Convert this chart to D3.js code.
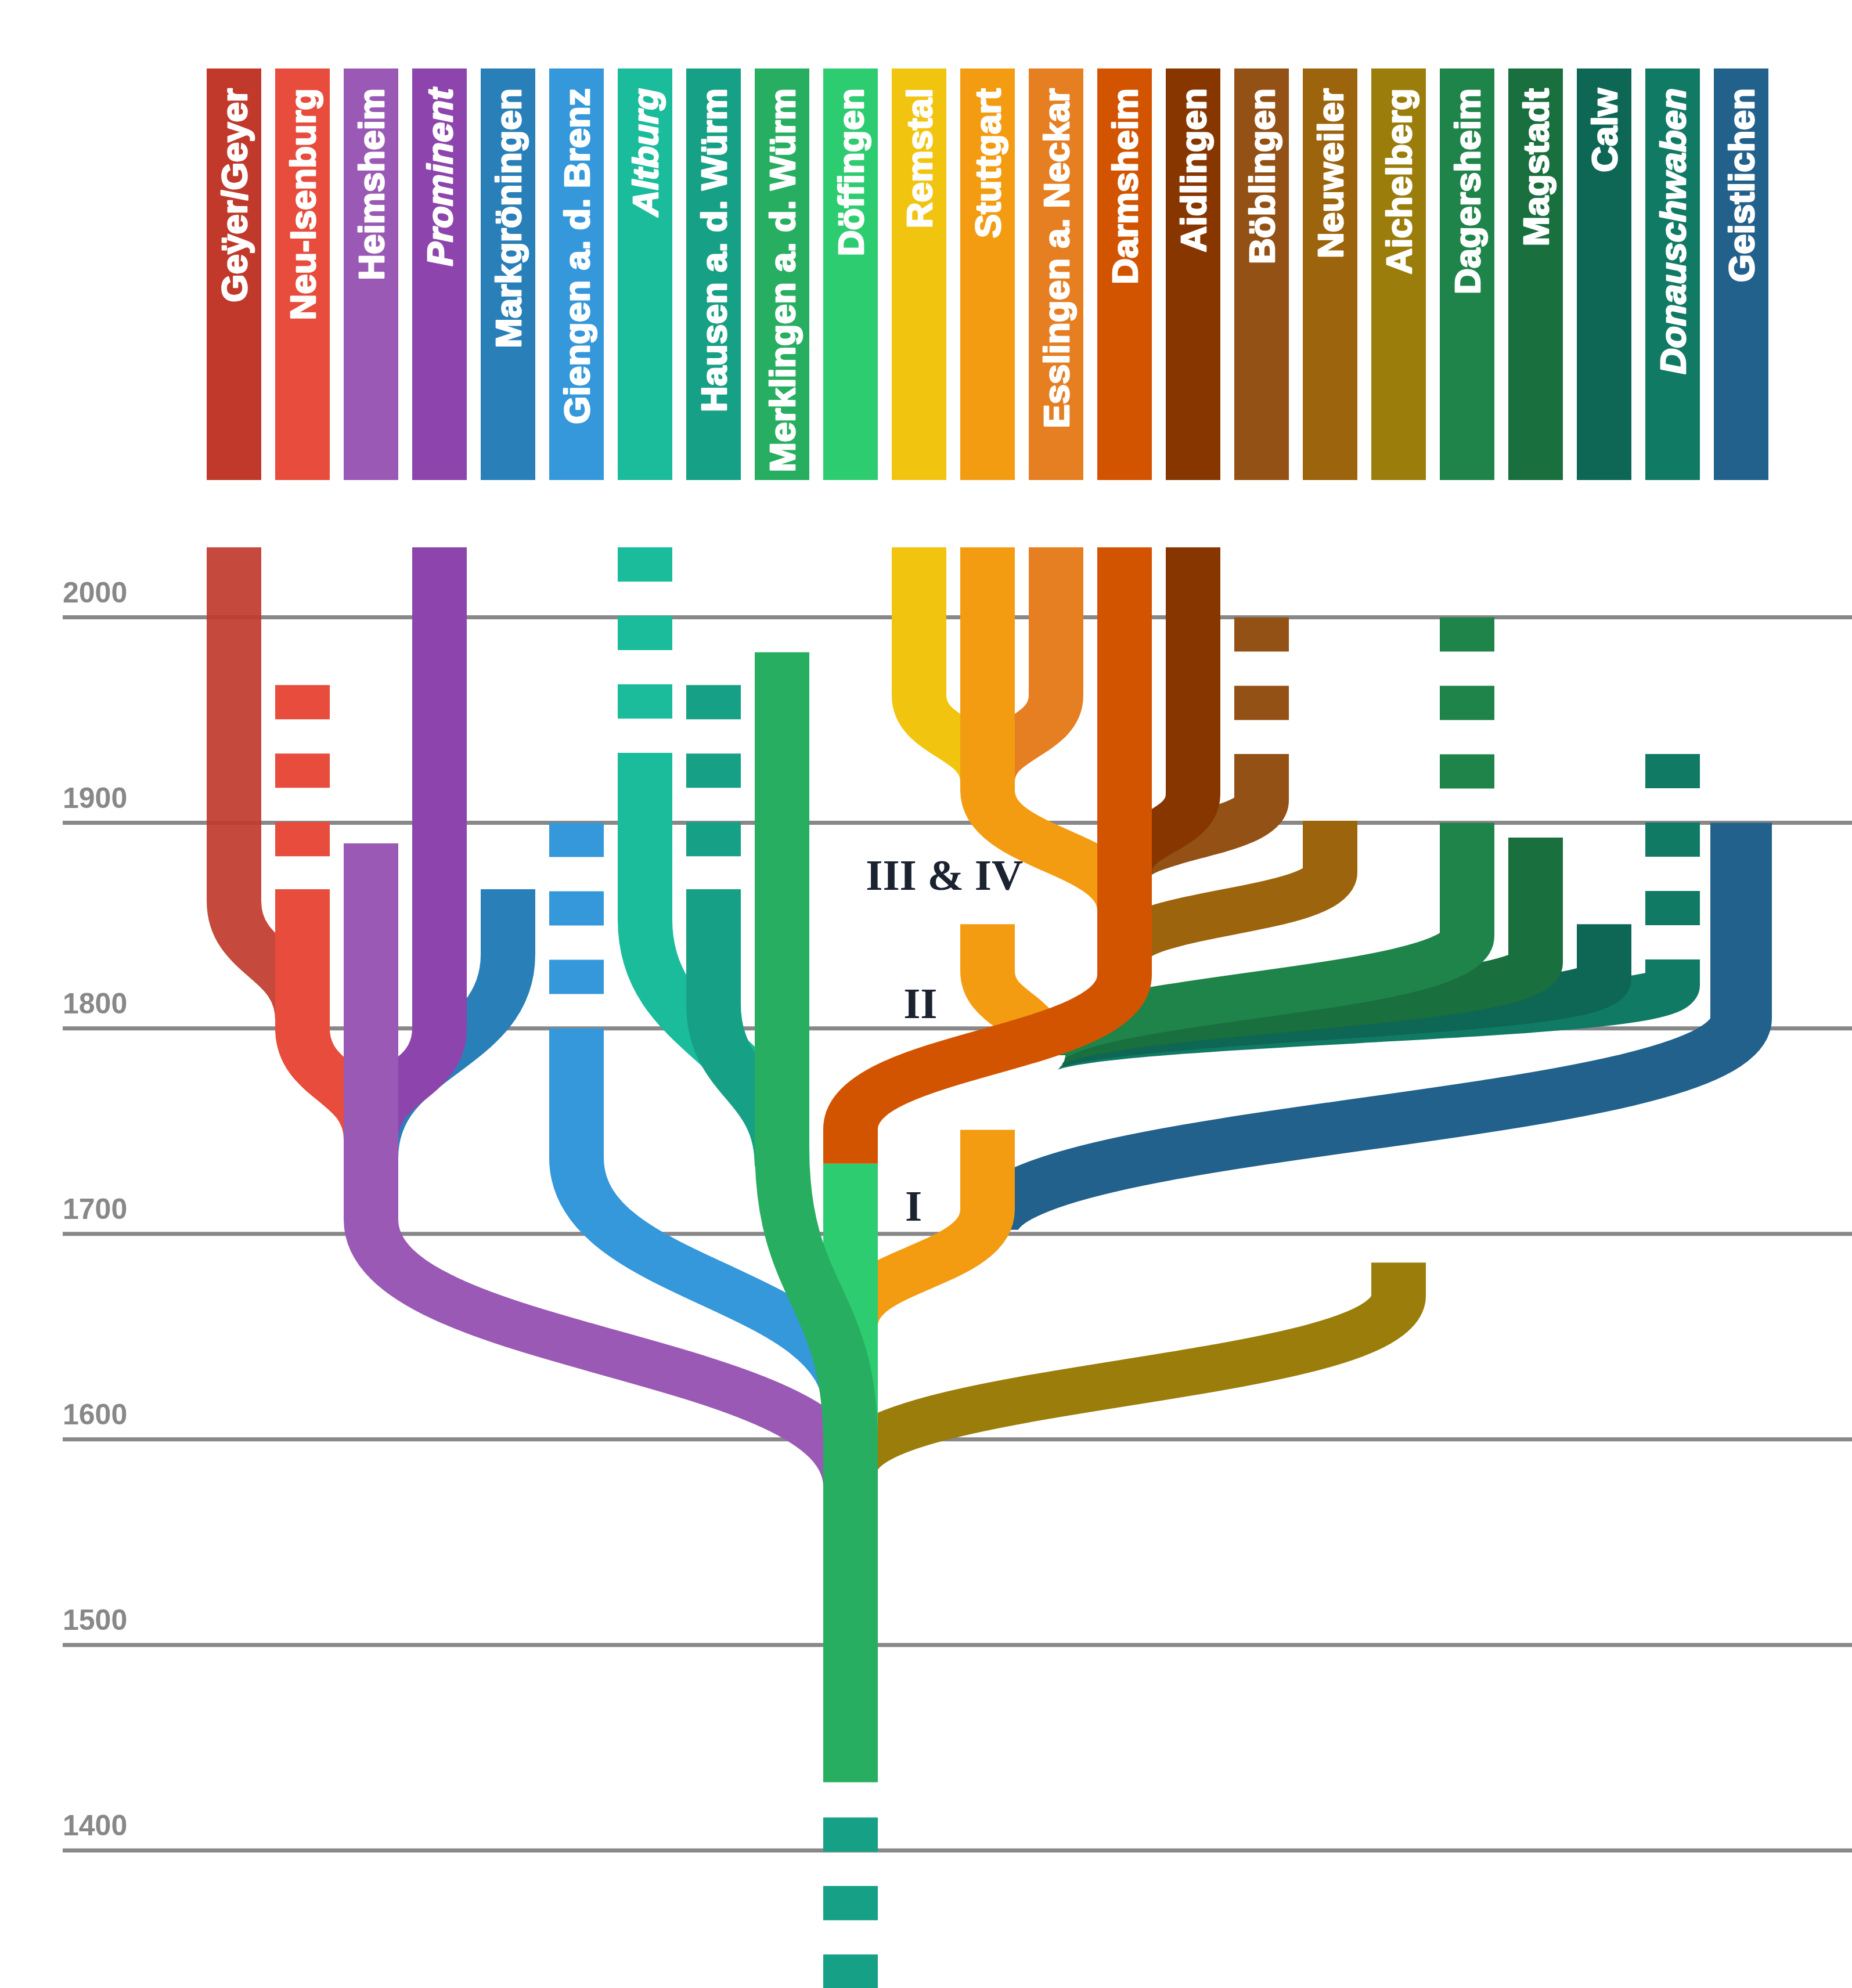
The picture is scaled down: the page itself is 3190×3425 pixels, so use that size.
<!DOCTYPE html>
<html><head><meta charset="utf-8">
<script src="https://cdn.jsdelivr.net/npm/d3@7"></script>
<style>html,body{margin:0;padding:0;background:#fff;} svg{display:block;}</style>
</head><body>
<script>
// ---------- DATA ----------
const families = ["Geÿer/Geyer","Neu-Isenburg","Heimsheim","Prominent","Markgröningen","Giengen a. d. Brenz","Altburg","Hausen a. d. Würm","Merklingen a. d. Würm","Döffingen","Remstal","Stuttgart","Esslingen a. Neckar","Darmsheim","Aidlingen","Böblingen","Neuweiler","Aichelberg","Dagersheim","Magstadt","Calw","Donauschwaben","Geistlichen"];
const familyColors = ["#c0392b","#e74c3c","#9b59b6","#8e44ad","#2980b9","#3498db","#1abc9c","#16a085","#27ae60","#2ecc71","#f1c40f","#f39c12","#e67e22","#d35400","#873600","#935116","#9c640c","#9a7d0a","#1e8449","#196f3d","#0e6655","#117a65","#21618c"];
const italicFamilies = ["Prominent","Altburg","Donauschwaben"];
const yearTicks = [2000,1900,1800,1700,1600,1500,1400];
const presentYear = 2034;
const greenJoin = 11.74; // column position where the Darmsheim-side branches meet

// solid branches, in drawing order:
// [family (colour), column, from year, bend year, parent column, join year, continue-to year]
const branches = [
  ["Geÿer/Geyer","Geÿer/Geyer",presentYear,1862,"Neu-Isenburg",1804,null],
  ["Neu-Isenburg","Neu-Isenburg",1867.7,1800,"Heimsheim",1746,null],
  ["Markgröningen","Markgröningen",1867.7,1836,"Heimsheim",1737,null],
  ["Prominent","Prominent",presentYear,1800,"Heimsheim",1746,null],
  ["Heimsheim","Heimsheim",1890,1707,"Döffingen",1577,null],
  ["Giengen a. d. Brenz","Giengen a. d. Brenz",1800,1737,"Döffingen",1614,null],
  ["Altburg","Altburg",1933.5,1853,"Merklingen a. d. Würm",1733,null],
  ["Hausen a. d. Würm","Hausen a. d. Würm",1867.7,1812,"Merklingen a. d. Würm",1733,null],
  ["Aichelberg","Aichelberg",1686,1670,"Döffingen",1585,null],
  ["Geistlichen","Geistlichen",1900,1805,"Stuttgart",1702,null],
  ["Stuttgart","Stuttgart",1750.6,1712,"Döffingen",1655,null],
  ["Döffingen","Döffingen",1734.2,1600,null,null,null],
  ["Merklingen a. d. Würm","Merklingen a. d. Würm",1983,1742,"Döffingen",1598,1433.2],
  ["Remstal","Remstal",presentYear,1962,"Stuttgart",1920,null],
  ["Esslingen a. Neckar","Esslingen a. Neckar",presentYear,1962,"Stuttgart",1920,null],
  ["Stuttgart","Stuttgart",presentYear,1916,"Darmsheim",1857,null],
  ["Stuttgart","Stuttgart",1850.7,1828,greenJoin,1790,null],
  ["Donauschwaben","Donauschwaben",1833.5,1821,greenJoin,1787,null],
  ["Calw","Calw",1850.7,1824,greenJoin,1787,null],
  ["Magstadt","Magstadt",1892.8,1832,greenJoin,1787,null],
  ["Dagersheim","Dagersheim",1900,1845,greenJoin,1787,null],
  ["Neuweiler","Neuweiler",1901,1876,"Darmsheim",1837,null],
  ["Böblingen","Böblingen",1933.5,1911,"Darmsheim",1876,null],
  ["Aidlingen","Aidlingen",presentYear,1914,"Darmsheim",1876,null],
  ["Darmsheim","Darmsheim",presentYear,1826,"Döffingen",1751,1734.2]
];

// uncertain (dashed) stretches: [family (colour), column, from year, to year]
const dashedStretches = [
  ["Neu-Isenburg","Neu-Isenburg",1967,1867.7],
  ["Giengen a. d. Brenz","Giengen a. d. Brenz",1900,1800],
  ["Altburg","Altburg",presentYear,1933.5],
  ["Hausen a. d. Würm","Hausen a. d. Würm",1967,1867.7],
  ["Böblingen","Böblingen",2000,1933.5],
  ["Dagersheim","Dagersheim",2000,1900],
  ["Donauschwaben","Donauschwaben",1933.5,1833.5],
  ["Hausen a. d. Würm","Döffingen",1416,1320]
];

// period markers: [label, column position, baseline year]
const periodLabels = [["III & IV",10.37,1867.3],["II",10.02,1805],["I",9.92,1706.5]];

// ---------- LAYOUT / STYLE ----------
const W = 3190, H = 3425;
const SX = 94/80;             // pen is wider horizontally than vertically
const colX = d3.scaleLinear().domain([0, families.length-1]).range([403, 2999]);
const yearY = d3.scaleLinear().domain([1400,2000]).range([3188,1063.5]);
const colorOf = d3.scaleOrdinal().domain(families).range(familyColors);
const idx = c => typeof c === "number" ? c : families.indexOf(c);
const penPx = name => name === "Geistlichen" ? 106 : 94;
const opacityOf = name => name === "Geÿer/Geyer" ? 0.92 : 1;

const svg = d3.select("body").append("svg").attr("width", W).attr("height", H);

// grid + year labels
const grid = svg.append("g");
grid.selectAll("line").data(yearTicks).join("line")
  .attr("x1",108).attr("x2",W).attr("y1",d=>yearY(d)).attr("y2",d=>yearY(d))
  .attr("stroke","#888").attr("stroke-width",7);
grid.selectAll("text").data(yearTicks).join("text")
  .attr("x",108).attr("y",d=>yearY(d)-26)
  .attr("font-family","'Liberation Sans', Arial, sans-serif").attr("font-weight","bold")
  .attr("font-size",50).attr("fill","#888").text(d=>d);

// header bars
const head = svg.append("g");
head.selectAll("rect").data(families).join("rect")
  .attr("x",(d,i)=>colX(i)-47).attr("y",118).attr("width",94).attr("height",709)
  .attr("fill",d=>colorOf(d));
head.selectAll("text").data(families).join("text")
  .attr("transform",(d,i)=>`translate(${colX(i)+22},152) rotate(-90)`)
  .attr("text-anchor","end")
  .attr("font-family","'Liberation Sans', Arial, sans-serif").attr("font-weight","bold")
  .attr("font-style",d=>italicFamilies.includes(d)?"italic":"normal")
  .attr("font-size",62).attr("fill","#fff")
  .attr("stroke","#fff").attr("stroke-width",2.6).attr("stroke-linejoin","round")
  .text(d=>d);

// tree, drawn in a horizontally stretched frame
const tree = svg.append("g").attr("transform",`scale(${SX},1)`);

function branchPath(b){
  const [, c, top, bend, parent, join, end] = b;
  const x0 = colX(idx(c))/SX;
  const p = d3.path();
  p.moveTo(x0, yearY(top));
  p.lineTo(x0, yearY(bend));
  if (parent !== null) {
    const x1 = colX(idx(parent))/SX, y0 = yearY(bend), y1 = yearY(join), ym = (y0+y1)/2;
    p.bezierCurveTo(x0, ym, x1, ym, x1, y1);
    if (end !== null) p.lineTo(x1, yearY(end));
  }
  return p.toString();
}

// dashed stretches underneath
tree.append("g").selectAll("path").data(dashedStretches).join("path")
  .attr("d", d => { const x = colX(idx(d[1]))/SX; return `M${x},${yearY(d[2])}V${yearY(d[3])}`; })
  .attr("fill","none").attr("stroke",d=>colorOf(d[0]))
  .attr("stroke-width",d=>penPx(d[0])/SX)
  .attr("stroke-dasharray","59 59");

tree.append("g").selectAll("path").data(branches).join("path")
  .attr("d", branchPath)
  .attr("fill","none").attr("stroke",d=>colorOf(d[0]))
  .attr("stroke-opacity",d=>opacityOf(d[0]))
  .attr("stroke-width",d=>penPx(d[0])/SX)
  .attr("stroke-linecap","butt");

// period labels
svg.append("g").selectAll("text").data(periodLabels).join("text")
  .attr("x",d=>colX(d[1])).attr("y",d=>yearY(d[2]))
  .attr("text-anchor","middle")
  .attr("font-family","'Liberation Serif', 'Times New Roman', serif").attr("font-weight","bold")
  .attr("font-size",75).attr("fill","#1b2230").text(d=>d[0]);
</script>
</body></html>
